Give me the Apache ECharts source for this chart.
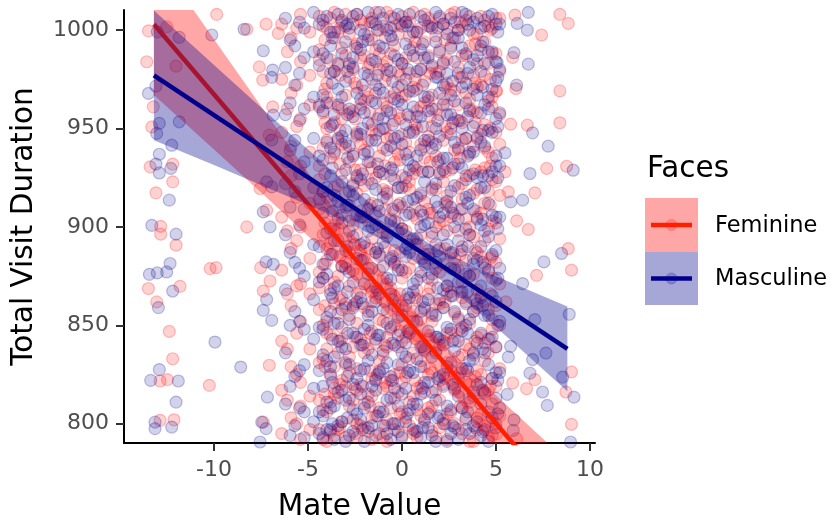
<!DOCTYPE html>
<html>
<head>
<meta charset="utf-8">
<script src="https://cdn.jsdelivr.net/npm/echarts@6/dist/echarts.min.js"></script>
<style>
  html, body { margin: 0; padding: 0; background: #fff; }
  #chart { width: 838px; height: 523px; }
</style>
</head>
<body>
<div id="chart"></div>
<script>
// tick labels
const xTicks = [-10, -5, 0, 5, 10];
const yTicks = [800, 850, 900, 950, 1000];

const femPoints = [
  [-13.49, 999.6], [-12.52, 1001.7], [-13.58, 983.9], [-12.02, 981.7], [-13.23, 961.0], [-13.31, 950.8],
  [-13.40, 930.5], [-12.20, 931.9], [-12.20, 922.9], [-13.09, 917.3], [-12.84, 900.3], [-9.86, 1008],
  [-8.26, 1000.4], [-7.23, 1003], [-6.58, 998.3], [-7.59, 981.3], [-7.41, 974.6], [-6.88, 961.0],
  [-7.06, 946.6], [-7.55, 919.5], [-7.20, 908.5], [-8.26, 900.0], [-12.84, 896.3], [-12.02, 890.7],
  [-10.21, 878.8], [-9.89, 879.3], [-7.52, 879.3], [-7.02, 872.5], [-7.38, 867.4], [-13.49, 868.7],
  [-11.81, 869.8], [-13.05, 861.9], [-12.38, 846.9], [-12.20, 833.0], [-7.06, 829.7], [-12.87, 821.7],
  [-12.48, 822.4], [-10.25, 819.5], [-12.87, 801.7], [-12.13, 802.0], [-7.38, 800.8],
  [6.01, 1007.6], [8.40, 1008], [8.85, 1003.4], [7.43, 997.5], [5.89, 986.1], [8.40, 969.1],
  [6.06, 970.3], [5.04, 969.1], [5.78, 952.2], [6.67, 951.7], [8.40, 952.9], [7.70, 929.7],
  [8.76, 930.8], [7.07, 917.3], [6.10, 903.1], [5.48, 928.0], [5.66, 917.8], [6.72, 898.7],
  [8.85, 889.0], [9.02, 878.0], [7.16, 875.4], [5.53, 861.9], [9.02, 826.3], [8.72, 816.1],
  [7.07, 822.4], [6.63, 817.8], [5.89, 820.7], [9.02, 799.7], [6.10, 792.4], [5.04, 794.9]
];
const mascPoints = [
  [-13.02, 999.1], [-11.85, 996.3], [-10.12, 997.5], [-8.40, 1000.4], [-7.38, 989.5], [-6.88, 979.7],
  [-6.93, 976.0], [-13.49, 967.8], [-13.09, 971.5], [-12.91, 952.6], [-13.05, 947.5], [-11.85, 953.4],
  [-12.25, 941.5], [-12.91, 936.9], [-13.09, 931.9], [-12.91, 927.4], [-12.30, 929.7], [-12.38, 913.6],
  [-13.31, 900.8], [-6.85, 956.8], [-6.93, 944.1], [-7.20, 922.9], [-6.93, 920.3], [-7.38, 907.6],
  [-7.02, 900.0], [-12.02, 896.3], [-12.34, 881.4], [-13.44, 875.9], [-13.02, 876.6], [-12.52, 877.1],
  [-12.20, 867.4], [-12.96, 859.0], [-9.95, 841.5], [-8.58, 828.8], [-12.91, 827.5], [-13.37, 822.0],
  [-11.90, 821.7], [-12.02, 811.0], [-13.14, 800.8], [-13.14, 797.5], [-12.25, 798.3], [-7.23, 882.2],
  [-6.85, 881.0], [-7.20, 863.1], [-7.38, 857.6], [-6.93, 852.5], [-7.16, 813.5], [-7.46, 800.8],
  [-7.23, 797.5], [-7.55, 790.7],
  [6.72, 1009], [6.67, 1000], [6.13, 1003.4], [5.96, 988.5], [6.72, 982.7], [6.10, 972.0],
  [5.07, 983.4], [6.95, 947.8], [7.78, 941.0], [9.11, 928.8], [6.81, 927.1], [6.42, 913.6],
  [5.48, 937.6], [5.78, 912.7], [8.49, 886.5], [7.55, 882.2], [6.42, 871.2], [8.90, 855.6],
  [7.07, 852.9], [7.66, 835.9], [6.95, 832.6], [6.81, 825.7], [8.55, 823.7], [7.48, 816.1],
  [9.15, 813.5], [7.73, 809.3], [5.66, 833.9], [5.78, 839.3], [5.60, 814.9], [5.96, 802.0],
  [5.92, 796.6], [8.97, 790.7]
];

// dense middle: mate value columns and the visit durations stacked in each
const femColX = [-6.4, -6.1, -5.9, -5.6, -5.4, -4.9,
  -4.4, -4.0, -3.6, -3.2, -2.8, -2.4, -2.0, -1.6, -1.2, -0.8, -0.4,
  0.0, 0.4, 0.8, 1.2, 1.6, 2.0, 2.4, 2.8, 3.2, 3.6, 4.0, 4.4, 4.8, 5.2,
  -4.2, -3.8, -3.4, -3.0, -2.6, -2.2, -1.8, -1.4, -1.0, -0.6, -0.2,
  0.2, 0.6, 1.0, 1.4, 1.8, 2.2, 2.6, 3.0, 3.4, 3.8, 4.2, 4.6, 5.0,
  -4.1, -3.3, -2.5, -1.7, -0.9, -0.1, 0.7, 1.5, 2.3, 3.1, 3.9, 4.7];
const femColY = [
  [1003, 975, 948, 905, 878, 842, 817, 795],
  [989, 960, 933, 898, 866, 838, 812],
  [996, 968, 941, 926, 889, 860, 829, 803],
  [1001, 972, 951, 915, 893, 870, 846, 825, 800],
  [1008, 984, 955, 931, 900, 871, 852, 821, 809, 792],
  [999, 977, 962, 938, 912, 884, 866, 838, 814, 797],
  [1007, 990, 985, 962, 931, 924, 909, 877, 869, 858, 831, 812, 797],
  [1001, 973, 966, 950, 944, 915, 889, 883, 852, 846, 838, 806, 791],
  [1009, 996, 979, 953, 937, 920, 901, 898, 872, 861, 829, 818, 815, 794],
  [1004, 991, 960, 955, 942, 927, 906, 880, 864, 849, 843, 822, 801],
  [998, 982, 976, 958, 933, 911, 903, 887, 870, 855, 834, 826, 809, 790],
  [1008, 993, 971, 948, 946, 925, 917, 896, 876, 866, 851, 828, 817, 800, 793],
  [1003, 987, 969, 964, 939, 921, 905, 890, 884, 859, 841, 836, 810, 798],
  [1006, 995, 975, 952, 949, 930, 912, 894, 867, 862, 847, 823, 814, 803, 792],
  [1000, 988, 980, 957, 936, 928, 900, 885, 878, 853, 832, 827, 808, 795],
  [1009, 984, 977, 961, 945, 918, 914, 897, 871, 857, 844, 839, 819, 802, 791],
  [1002, 992, 968, 954, 940, 933, 908, 888, 881, 865, 850, 825, 813, 797],
  [1007, 983, 972, 966, 947, 926, 910, 899, 874, 860, 842, 830, 821, 806, 794],
  [1004, 997, 978, 956, 938, 923, 919, 893, 879, 854, 848, 833, 811, 799],
  [999, 986, 970, 959, 950, 929, 904, 891, 868, 863, 845, 818, 807, 793],
  [1008, 994, 974, 963, 941, 935, 913, 886, 882, 858, 837, 829, 816, 801, 790],
  [1003, 981, 967, 951, 943, 920, 907, 895, 873, 855, 852, 826, 809, 796],
  [1006, 990, 979, 957, 934, 928, 902, 889, 877, 861, 840, 822, 812, 798],
  [1001, 985, 973, 962, 948, 916, 911, 898, 870, 866, 846, 831, 805, 792],
  [1009, 996, 969, 955, 939, 932, 906, 884, 879, 856, 843, 824, 817, 800],
  [1002, 987, 976, 953, 944, 922, 914, 890, 872, 864, 849, 835, 808, 795],
  [1007, 992, 965, 960, 937, 926, 900, 896, 875, 851, 838, 820, 811, 791],
  [998, 983, 971, 958, 946, 919, 905, 887, 868, 859, 844, 827, 803, 797],
  [1005, 994, 977, 952, 940, 930, 912, 893, 881, 862, 841, 832, 815, 799],
  [1001, 988, 966, 961, 935, 924, 903, 885, 874, 853, 848, 823, 810, 794],
  [1006, 979, 957, 942, 916, 894, 871, 850, 828, 804],
  [1002, 979, 958, 940, 918, 896, 874, 850, 833, 807, 792],
  [1006, 985, 963, 935, 913, 892, 868, 845, 824, 811, 796],
  [999, 982, 961, 944, 921, 899, 875, 856, 836, 813, 797],
  [1008, 987, 967, 940, 917, 894, 882, 859, 830, 819, 793],
  [1003, 980, 959, 937, 922, 901, 878, 860, 839, 812, 802],
  [1005, 986, 962, 942, 929, 908, 888, 867, 843, 820, 799],
  [997, 981, 966, 944, 924, 903, 879, 857, 838, 815, 796],
  [1009, 990, 968, 947, 925, 907, 887, 864, 841, 823, 804],
  [1002, 982, 963, 940, 919, 897, 874, 852, 835, 818, 793],
  [1007, 988, 966, 946, 926, 904, 883, 869, 848, 822, 808],
  [998, 979, 958, 937, 920, 902, 880, 858, 839, 816, 800],
  [1004, 986, 967, 943, 921, 898, 877, 863, 844, 824, 803],
  [1009, 991, 971, 949, 927, 906, 884, 857, 836, 814, 795],
  [1001, 980, 961, 942, 916, 896, 875, 853, 832, 819, 804],
  [1006, 987, 964, 946, 928, 909, 888, 866, 843, 825, 808],
  [997, 978, 960, 936, 919, 900, 879, 861, 837, 817, 793],
  [1003, 984, 965, 944, 923, 903, 881, 859, 842, 820, 802],
  [1008, 992, 970, 950, 929, 905, 886, 867, 846, 827, 806],
  [1000, 981, 962, 939, 920, 898, 878, 854, 834, 816, 797],
  [1005, 987, 968, 945, 926, 904, 883, 862, 840, 821, 802],
  [998, 977, 959, 941, 917, 895, 876, 857, 835, 814, 791],
  [1007, 990, 972, 947, 928, 907, 885, 865, 845, 825, 805],
  [1002, 983, 964, 938, 918, 899, 877, 858, 836, 817, 793],
  [1006, 988, 969, 948, 923, 902, 882, 860, 839, 819, 800],
  [995, 970, 953, 927, 902, 881, 860, 829, 815, 790],
  [1001, 977, 949, 932, 910, 885, 863, 842, 820, 798],
  [992, 973, 955, 929, 906, 891, 861, 844, 818, 795],
  [1004, 983, 958, 933, 911, 889, 870, 846, 827, 809],
  [996, 974, 950, 931, 909, 890, 862, 840, 821, 799],
  [1003, 977, 955, 934, 912, 887, 866, 847, 826, 805],
  [994, 975, 952, 930, 910, 891, 864, 843, 822, 796],
  [1002, 978, 956, 933, 907, 884, 869, 845, 828, 806],
  [995, 971, 951, 928, 912, 889, 862, 841, 823, 800],
  [1004, 976, 954, 935, 909, 886, 867, 848, 826, 809],
  [993, 973, 953, 929, 908, 888, 863, 842, 824, 798],
  [1000, 975, 950, 931, 911, 884, 866, 843, 819, 801]
];
const mascColX = [-6.2, -5.95, -5.7, -5.45, -5.2, -4.7,
  -4.2, -3.8, -3.4, -3.0, -2.6, -2.2, -1.8, -1.4, -1.0, -0.6, -0.2,
  0.2, 0.6, 1.0, 1.4, 1.8, 2.2, 2.6, 3.0, 3.4, 3.8, 4.2, 4.6, 5.0,
  -4.4, -4.0, -3.6, -3.2, -2.8, -2.4, -2.0, -1.6, -1.2, -0.8, -0.4,
  0.0, 0.4, 0.8, 1.2, 1.6, 2.0, 2.4, 2.8, 3.2, 3.6, 4.0, 4.4, 4.8, 5.2,
  -3.7, -2.9, -2.1, -1.3, -0.5, 0.3, 1.1, 1.9, 2.7, 3.5, 4.3, 5.1];
const mascColY = [
  [1006, 981, 957, 922, 896, 868, 836, 810],
  [995, 963, 939, 910, 887, 850, 819, 794],
  [992, 972, 944, 918, 882, 857, 824, 799],
  [1004, 978, 954, 927, 901, 879, 852, 827, 808],
  [1001, 986, 960, 933, 909, 875, 848, 830, 806, 793],
  [1009, 989, 966, 945, 920, 891, 863, 843, 818, 801],
  [1005, 988, 967, 959, 934, 918, 907, 881, 874, 848, 835, 819, 804, 793],
  [999, 992, 978, 951, 940, 926, 899, 886, 866, 857, 829, 825, 808, 797],
  [1008, 983, 970, 962, 945, 913, 904, 893, 870, 851, 842, 816, 799],
  [1002, 994, 974, 949, 943, 929, 910, 888, 879, 861, 838, 831, 812, 791],
  [1007, 986, 981, 956, 936, 921, 916, 895, 872, 859, 846, 820, 807, 796],
  [1000, 990, 965, 960, 947, 924, 905, 891, 883, 864, 840, 827, 815, 802, 790],
  [1009, 995, 977, 953, 938, 933, 909, 898, 876, 855, 850, 832, 811, 798],
  [1003, 984, 972, 963, 944, 919, 901, 887, 869, 862, 843, 822, 817, 794],
  [1006, 991, 968, 955, 950, 927, 915, 892, 880, 858, 837, 828, 806, 799],
  [1001, 997, 979, 958, 941, 930, 903, 884, 873, 866, 849, 824, 813, 792],
  [1008, 985, 971, 964, 946, 920, 911, 897, 878, 854, 845, 830, 809, 796],
  [1004, 993, 975, 952, 937, 925, 906, 889, 885, 860, 841, 834, 818, 801, 790],
  [999, 987, 969, 961, 948, 931, 914, 894, 871, 867, 852, 826, 810, 797],
  [1007, 990, 980, 956, 939, 917, 908, 900, 877, 857, 839, 829, 815, 793],
  [1002, 986, 966, 959, 944, 928, 902, 886, 874, 863, 847, 821, 805, 798],
  [1009, 994, 976, 950, 942, 922, 913, 891, 882, 855, 844, 836, 812, 791],
  [1003, 983, 972, 962, 935, 929, 907, 896, 868, 859, 840, 825, 819, 800],
  [1006, 991, 967, 957, 947, 918, 910, 887, 879, 865, 848, 831, 807, 795],
  [1000, 996, 978, 954, 940, 932, 904, 893, 872, 853, 842, 823, 814, 792],
  [1008, 988, 973, 963, 945, 924, 915, 899, 876, 861, 850, 828, 803, 797],
  [1004, 985, 970, 951, 938, 927, 909, 884, 881, 857, 836, 833, 816, 799],
  [1001, 992, 979, 958, 943, 920, 901, 890, 870, 864, 846, 821, 810, 794],
  [1007, 989, 966, 960, 949, 926, 912, 895, 878, 855, 843, 830, 806, 791],
  [1003, 984, 974, 955, 936, 931, 905, 888, 873, 862, 839, 826, 813, 798],
  [1003, 982, 961, 936, 914, 890, 872, 849, 827, 806, 795],
  [1007, 986, 963, 943, 920, 897, 876, 854, 832, 811, 797],
  [999, 979, 957, 938, 916, 893, 869, 851, 834, 809, 792],
  [1005, 988, 966, 946, 923, 902, 880, 858, 839, 817, 801],
  [1001, 983, 960, 941, 918, 898, 877, 853, 830, 813, 794],
  [1008, 991, 968, 947, 926, 906, 884, 862, 844, 823, 805],
  [998, 978, 958, 937, 914, 892, 871, 848, 828, 808, 791],
  [1004, 985, 964, 944, 922, 900, 879, 857, 835, 819, 799],
  [1009, 992, 970, 949, 928, 908, 886, 866, 845, 826, 806],
  [1000, 980, 959, 939, 917, 895, 874, 851, 831, 812, 795],
  [1006, 987, 965, 945, 924, 903, 882, 860, 840, 818, 800],
  [1002, 983, 962, 942, 920, 899, 878, 855, 836, 815, 793],
  [1008, 990, 969, 948, 929, 907, 887, 864, 846, 827, 807],
  [999, 979, 956, 936, 915, 894, 873, 852, 833, 810, 796],
  [1005, 986, 966, 944, 923, 901, 881, 859, 838, 821, 802],
  [1001, 982, 960, 940, 919, 897, 876, 856, 834, 816, 794],
  [1007, 989, 968, 946, 927, 905, 885, 863, 843, 824, 804],
  [998, 978, 957, 935, 913, 891, 870, 849, 829, 809, 791],
  [1004, 984, 964, 943, 921, 900, 878, 857, 837, 818, 798],
  [1009, 991, 971, 950, 930, 909, 888, 867, 847, 828, 808],
  [1000, 981, 959, 938, 916, 896, 875, 853, 832, 813, 795],
  [1006, 987, 967, 945, 925, 904, 883, 861, 841, 820, 801],
  [1002, 983, 962, 941, 920, 898, 879, 855, 836, 816, 797],
  [1008, 989, 970, 948, 928, 906, 886, 865, 844, 823, 803],
  [1003, 980, 958, 931, 905, 879, 852, 826, 808],
  [996, 973, 952, 930, 908, 886, 864, 843, 821, 800],
  [1003, 979, 957, 935, 911, 890, 867, 846, 824, 803],
  [994, 972, 950, 927, 905, 883, 861, 840, 819, 797],
  [1000, 977, 955, 932, 911, 889, 868, 845, 825, 804],
  [995, 974, 952, 929, 909, 885, 863, 841, 822, 800],
  [1002, 980, 957, 934, 913, 891, 866, 847, 826, 805],
  [993, 972, 951, 928, 906, 884, 862, 839, 818, 798],
  [1001, 976, 954, 933, 910, 888, 869, 844, 823, 803],
  [996, 974, 953, 930, 907, 887, 865, 842, 820, 799],
  [1003, 978, 956, 936, 912, 890, 867, 846, 827, 806],
  [994, 971, 949, 926, 904, 882, 860, 838, 817, 796],
  [999, 976, 951, 925, 899, 874, 850, 822, 805]
];

// fitted lines (end points) and confidence bands
const femLine = [[-13.2, 1003], [8.8, 757.8]];
const mascLine = [[-13.2, 977], [8.8, 838]];
const bandX = [-13.2, -10, -7, -4, -1, 2, 5, 8.8];
const femLo = [967, 939.3, 913.2, 886.5, 858.2, 824.5, 785.8, 734.7];
const femHi = [1039, 995.3, 954.6, 914.3, 875.8, 842.5, 814.4, 780.9];
const mascLo = [944, 931.4, 919.3, 907.0, 893.2, 873.5, 849.1, 816.5];
const mascHi = [1010, 982.2, 956.3, 930.8, 906.6, 888.3, 874.9, 859.5];

const FONT = "'DejaVu Sans', sans-serif";
const RED = '#ff1f00';
const BLUE = '#00008b';

function points(single, colX, colY) {
  const out = single.slice();
  colX.forEach((x, i) => colY[i].forEach(y => out.push([x, y])));
  return out;
}

function band(lo, hi, fill, z) {
  return {
    type: 'custom',
    silent: true,
    z: z,
    data: [[bandX[0], (lo[0] + hi[0]) / 2]],
    renderItem(params, api) {
      const pts = [];
      for (let i = 0; i < bandX.length; i++) pts.push(api.coord([bandX[i], hi[i]]));
      for (let i = bandX.length - 1; i >= 0; i--) pts.push(api.coord([bandX[i], lo[i]]));
      const cs = params.coordSys;
      return {
        type: 'polygon',
        shape: { points: pts },
        style: { fill: fill },
        clipPath: { type: 'rect', shape: { x: cs.x, y: cs.y, width: cs.width, height: cs.height } }
      };
    }
  };
}

function scatter(name, data, rgb) {
  return {
    name: name,
    type: 'scatter',
    z: 1,
    data: data,
    symbolSize: 12,
    silent: true,
    itemStyle: { color: 'rgba(' + rgb + ',0.22)', borderColor: 'rgba(' + rgb + ',0.3)', borderWidth: 1.2 }
  };
}

function fit(name, data, color, z) {
  return {
    name: name,
    type: 'line',
    z: z,
    data: data,
    symbol: 'none',
    silent: true,
    lineStyle: { color: color, width: 4.5 }
  };
}

const chart = echarts.init(document.getElementById('chart'));
chart.setOption({
  animation: false,
  backgroundColor: '#fff',
  grid: { left: 124, top: 10, width: 471, height: 433, containLabel: false, outerBoundsMode: 'none' },
  xAxis: {
    type: 'value',
    min: -14.79, max: 10.27,
    name: 'Mate Value',
    nameLocation: 'middle',
    nameGap: 49,
    nameTextStyle: { fontSize: 29.5, color: '#000', fontFamily: FONT },
    splitLine: { show: false },
    axisLine: { onZero: false, lineStyle: { color: '#000', width: 2 } },
    axisTick: { customValues: xTicks, length: 8, lineStyle: { color: '#333', width: 2 } },
    axisLabel: { customValues: xTicks, fontSize: 22, color: '#4d4d4d', margin: 16, fontFamily: FONT,
      formatter: v => String(v) }
  },
  yAxis: {
    type: 'value',
    min: 790.2, max: 1010.2,
    name: 'Total Visit Duration',
    nameLocation: 'middle',
    nameGap: 85,
    nameTextStyle: { fontSize: 29.5, color: '#000', fontFamily: FONT },
    splitLine: { show: false },
    axisLine: { onZero: false, lineStyle: { color: '#000', width: 2 } },
    axisTick: { customValues: yTicks, length: 8, lineStyle: { color: '#333', width: 2 } },
    axisLabel: { customValues: yTicks, fontSize: 22, color: '#4d4d4d', margin: 15, fontFamily: FONT,
      formatter: v => String(v) }
  },
  series: [
    scatter('Feminine', points(femPoints, femColX, femColY), '255,0,0'),
    scatter('Masculine', points(mascPoints, mascColX, mascColY), '0,0,139'),
    band(femLo, femHi, 'rgba(255,0,0,0.35)', 2),
    fit('Feminine', femLine, RED, 3),
    band(mascLo, mascHi, 'rgba(0,0,139,0.35)', 4),
    fit('Masculine', mascLine, BLUE, 5)
  ],
  graphic: [
    { type: 'text', x: 647, y: 169, style: { text: 'Faces', fontSize: 29.5, fontFamily: FONT, fill: '#000', verticalAlign: 'middle' } },
    { type: 'rect', shape: { x: 645, y: 198, width: 53, height: 54 }, style: { fill: 'rgba(255,0,0,0.35)' } },
    { type: 'rect', shape: { x: 645, y: 252, width: 53, height: 53 }, style: { fill: 'rgba(0,0,139,0.35)' } },
    { type: 'circle', shape: { cx: 671.5, cy: 225, r: 5.5 }, style: { fill: 'rgba(255,0,0,0.2)', stroke: 'rgba(255,0,0,0.2)' } },
    { type: 'circle', shape: { cx: 671.5, cy: 278.5, r: 5.5 }, style: { fill: 'rgba(0,0,139,0.2)', stroke: 'rgba(0,0,139,0.2)' } },
    { type: 'line', shape: { x1: 651, y1: 225, x2: 692, y2: 225 }, style: { stroke: RED, lineWidth: 4.5 } },
    { type: 'line', shape: { x1: 651, y1: 278.5, x2: 692, y2: 278.5 }, style: { stroke: BLUE, lineWidth: 4.5 } },
    { type: 'text', x: 715, y: 226, style: { text: 'Feminine', fontSize: 22.5, fontFamily: FONT, fill: '#000', verticalAlign: 'middle' } },
    { type: 'text', x: 715, y: 279, style: { text: 'Masculine', fontSize: 22.5, fontFamily: FONT, fill: '#000', verticalAlign: 'middle' } }
  ]
});
</script>
</body>
</html>
